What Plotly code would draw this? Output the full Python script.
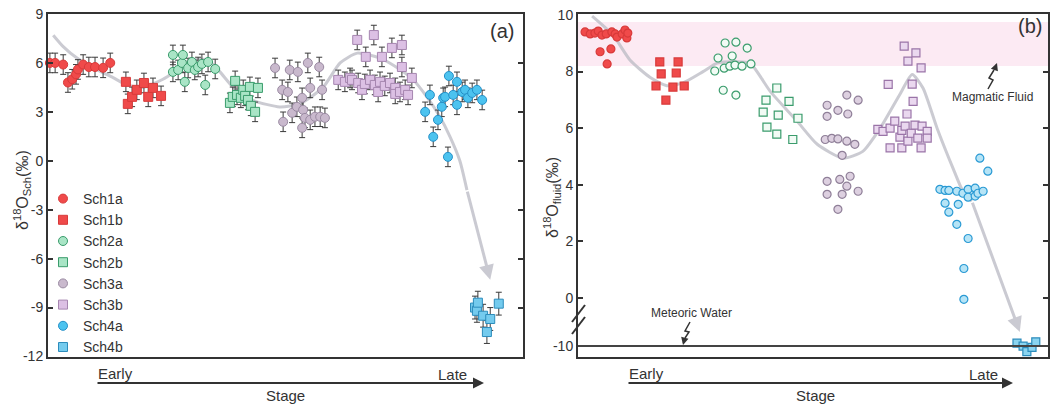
import plotly.graph_objects as go

W, H = 1051, 409
FONT = "Liberation Sans, Arial, sans-serif"

# ---------------- Panel (a): delta18O of scheelite (x = relative stage position, 0-100) -------------
a_sch1a_x = [0.4, 1.5, 3.2, 4.2, 5.1, 5.9, 6.3, 7.4, 8.6, 9.9, 11.6, 13.1]
a_sch1a_y = [6.0, 6.0, 5.9, 4.8, 5.0, 5.3, 5.6, 5.9, 5.75, 5.75, 5.7, 6.0]
a_sch1b_x = [16.4, 16.8, 17.7, 18.7, 20.2, 21.1, 22.1, 23.8]
a_sch1b_y = [4.84, 3.49, 3.92, 4.35, 4.77, 3.92, 4.47, 3.98]
a_sch2a_x = [26.3, 26.3, 27.4, 28.2, 28.4, 28.8, 29.5, 30.3, 30.9, 31.6, 32.4, 33.1, 33.7, 35.2]
a_sch2a_y = [6.49, 5.45, 5.57, 6.0, 6.49, 4.84, 5.69, 6.06, 5.57, 5.75, 5.94, 4.65, 6.06, 5.63]
a_sch2b_x = [38.3, 38.9, 39.4, 39.8, 40.6, 41.1, 41.5, 42.1, 42.5, 42.7, 43.6, 44.2]
a_sch2b_y = [3.55, 3.92, 4.9, 4.04, 3.86, 4.35, 3.98, 3.73, 4.53, 3.37, 3.0, 4.47]
a_sch3a_x = [47.8, 49.3, 49.5, 50.5, 50.9, 51.4, 52.4, 52.6, 53.5, 53.5, 53.7, 54.1, 54.7, 55.2,
             55.2, 56.2, 57.1, 57.3, 57.7, 58.3]
a_sch3a_y = [5.69, 4.35, 2.39, 4.22, 5.57, 2.94, 3.31, 5.45, 2.02, 3.86, 3.12, 2.63, 6.0, 4.47,
             2.51, 2.7, 5.75, 2.7, 4.35, 2.63]
a_sch3b_x = [61.1, 62.5, 63.6, 64.0, 65.1, 65.3, 66.1, 66.7, 66.9, 67.8, 68.6, 68.8, 69.5, 69.9,
             70.3, 70.9, 72.0, 72.4, 73.1, 73.1, 74.1, 74.5, 74.5, 75.2, 75.8, 76.6]
a_sch3b_y = [4.96, 4.84, 5.08, 4.96, 7.41, 4.77, 4.35, 4.71, 6.37, 4.96, 7.71, 4.65, 4.22, 4.84,
             6.37, 4.59, 4.77, 6.92, 4.47, 4.1, 4.22, 7.1, 5.75, 4.35, 4.04, 5.08]
a_sch4a_x = [79.4, 80.4, 81.1, 82.1, 82.9, 83.2, 83.6, 84.2, 84.4, 85.3, 86.1, 86.1, 87.2, 87.8,
             88.4, 89.3, 90.3, 91.4]
a_sch4a_y = [3.0, 4.04, 1.47, 2.51, 3.31, 3.86, 3.92, 0.24, 5.2, 4.04, 4.84, 3.43, 4.22, 4.35,
             3.86, 4.16, 4.35, 3.73]
a_sch4b_x = [89.9, 90.3, 90.5, 91.6, 92.4, 93.1, 94.9]
a_sch4b_y = [-9.0, -9.2, -8.7, -9.5, -10.5, -9.7, -8.76]
a_errors = [0.6, 0.6, 0.6, 0.6, 0.6, 0.6, 0.6, 0.7]  # 2-sigma error per group

a_trend_x = [1.1, 3.2, 6.1, 10.9, 13.7, 16.6, 20.0, 24.2, 26.3, 29.3, 33.5, 36.2, 39.0, 43.2, 48.8,
             53.1, 57.9, 61.5, 65.1, 69.9, 74.1, 76.8, 79.8, 82.5, 84.6, 86.7, 88.2]
a_trend_y = [7.7, 7.0, 6.3, 5.5, 5.1, 4.65, 4.5, 5.0, 5.4, 6.1, 6.2, 5.45, 4.5, 3.7, 3.3,
             3.5, 4.5, 6.0, 6.6, 6.3, 5.6, 5.0, 3.9, 2.7, 1.5, 0.0, -1.8]
a_trend_end = (93.1, -7.3)

a_yticks = [-12, -9, -6, -3, 0, 3, 6, 9]

# ---------------- Panel (b): delta18O of fluid -------------
b_sch1a_x = [1.5, 2.6, 3.6, 4.3, 4.7, 5.1, 6.0, 6.2, 7.0, 7.2, 7.9, 8.3, 9.4, 10.0, 10.4, 10.6]
b_sch1a_y = [9.4, 9.33, 9.36, 9.43, 8.7, 9.29, 9.33, 8.27, 8.8, 9.4, 9.33, 9.22, 9.33, 9.47, 9.19, 9.36]
b_sch1b_x = [16.6, 17.4, 17.7, 18.7, 20.2, 20.9, 21.3, 22.6]
b_sch1b_y = [7.49, 8.34, 7.92, 6.99, 7.45, 7.95, 8.34, 7.49]
b_sch2a_x = [29.1, 29.8, 30.9, 31.1, 31.3, 32.3, 32.8, 33.4, 33.6, 33.6, 34.9, 36.0, 36.8]
b_sch2a_y = [8.02, 8.48, 7.34, 8.12, 9.01, 8.19, 8.55, 8.23, 9.04, 7.17, 8.19, 8.83, 8.27]
b_sch2b_x = [39.4, 40.0, 40.2, 42.3, 42.3, 42.6, 44.9, 45.7, 46.8]
b_sch2b_y = [6.57, 6.99, 6.04, 7.42, 5.79, 6.46, 6.95, 5.6, 6.35]
b_sch3a_x = [52.6, 53.0, 53.0, 53.0, 53.0, 54.0, 55.3, 55.3, 55.3, 55.7, 56.2, 56.2, 57.2, 57.2,
             57.2, 57.4, 57.9, 58.9, 59.6, 59.6]
b_sch3a_y = [5.6, 6.81, 6.42, 4.12, 3.66, 5.64, 6.63, 5.62, 3.13, 4.19, 5.04, 3.66, 7.17, 5.54,
             3.95, 6.5, 4.3, 5.43, 6.99, 3.77]
b_sch3b_x = [63.8, 64.9, 66.0, 66.4, 66.4, 67.4, 68.5, 68.9, 68.9, 69.4, 69.6, 70.0, 70.2, 70.2,
             70.9, 71.1, 71.3, 71.7, 71.9, 72.3, 73.0, 73.0, 73.2, 74.3, 74.3]
b_sch3b_y = [5.96, 5.89, 7.55, 6.0, 5.3, 6.25, 5.68, 5.92, 5.3, 8.9, 6.07, 6.5, 8.37, 5.54,
             5.82, 7.56, 6.95, 6.11, 8.66, 5.65, 8.13, 5.3, 6.07, 5.89, 5.65]
b_sch4a_x = [77.0, 78.1, 78.1, 78.9, 78.9, 80.6, 80.6, 80.9, 81.9, 82.1, 82.1, 83.0, 83.0, 83.0,
             84.5, 84.5, 85.1, 85.5, 86.2, 87.2]
b_sch4a_y = [3.84, 3.8, 3.35, 3.8, 3.03, 3.77, 2.6, 3.31, 3.7, 1.04, -0.05, 3.84, 2.1, 3.56,
             3.88, 3.6, 3.7, 4.94, 3.77, 4.48]
b_sch4b_x = [93.4, 94.7, 95.5, 96.6, 97.4]
b_sch4b_y = [-9.9, -10.0, -10.2, -10.05, -9.85]

b_trend_x = [3.0, 7.4, 11.1, 15.3, 18.9, 22.3, 26.6, 29.6, 33.4, 36.6, 40.9, 46.6, 50.9, 56.4,
             60.6, 64.3, 68.5, 71.1, 73.4, 76.4, 79.8, 81.9, 83.8]
b_trend_y = [9.96, 9.3, 8.4, 7.8, 7.5, 7.6, 8.0, 8.3, 8.35, 8.3, 7.3, 6.25, 5.43, 4.94,
             5.18, 6.0, 7.2, 7.9, 7.42, 6.0, 4.58, 3.77, 3.42]
b_trend_end = (94.0, -9.5)
b_magmatic_band = (8.2, 9.75)
b_meteoric = -10
b_yticks = [-10, 0, 2, 4, 6, 8, 10]

# broken axis in (b): values below the break are shifted up
BREAK_SHIFT = 8.3


def fold(v):
    return v + BREAK_SHIFT if v < -5 else v


def foldl(vals):
    return [fold(v) for v in vals]


names = ["Sch1a", "Sch1b", "Sch2a", "Sch2b", "Sch3a", "Sch3b", "Sch4a", "Sch4b"]
symbols = ["circle", "square"] * 4
a_fill = ["#f04a4a", "#ef4a4a", "#a9e5c6", "#a9e5c6", "#c9b9cd", "#dcc0e4", "#4cc3ef", "#74cbee"]
a_line = ["#d83a3a", "#d83a3a", "#3a9c6c", "#3a9c6c", "#9a8aa2", "#a686b0", "#2590c8", "#2c8cbc"]
b_fill = ["#f04a4a", "#ef4a4a", "#f2fbf5", "#f2fbf5", "#ddd0e0", "#ead8ef", "#b6e4f6", "#8ad4f0"]
b_line = ["#d83a3a", "#d83a3a", "#3a9c6c", "#3a9c6c", "#8f7f98", "#9a74a8", "#2a9ad4", "#2c8cbc"]

a_xs = [a_sch1a_x, a_sch1b_x, a_sch2a_x, a_sch2b_x, a_sch3a_x, a_sch3b_x, a_sch4a_x, a_sch4b_x]
a_ys = [a_sch1a_y, a_sch1b_y, a_sch2a_y, a_sch2b_y, a_sch3a_y, a_sch3b_y, a_sch4a_y, a_sch4b_y]
b_xs = [b_sch1a_x, b_sch1b_x, b_sch2a_x, b_sch2b_x, b_sch3a_x, b_sch3b_x, b_sch4a_x, b_sch4b_x]
b_ys = [b_sch1a_y, b_sch1b_y, b_sch2a_y, b_sch2b_y, b_sch3a_y, b_sch3b_y, b_sch4a_y, b_sch4b_y]

fig = go.Figure()

TREND = "rgba(185,185,195,0.75)"

# trend lines
fig.add_trace(go.Scatter(x=a_trend_x, y=a_trend_y, mode="lines",
                         line=dict(color=TREND, width=3, shape="spline", smoothing=0.6),
                         showlegend=False, hoverinfo="skip", xaxis="x", yaxis="y"))
fig.add_trace(go.Scatter(x=b_trend_x, y=b_trend_y, mode="lines",
                         line=dict(color=TREND, width=3, shape="spline", smoothing=0.6),
                         showlegend=False, hoverinfo="skip", xaxis="x2", yaxis="y2"))

for i, nm in enumerate(names):
    fig.add_trace(go.Scatter(
        x=a_xs[i], y=a_ys[i], mode="markers", name=nm, xaxis="x", yaxis="y",
        marker=dict(symbol=symbols[i], size=9, color=a_fill[i], line=dict(color=a_line[i], width=1)),
        error_y=dict(type="constant", value=a_errors[i], color="#3a3a3a", thickness=1, width=3),
        cliponaxis=False, showlegend=True))
for i, nm in enumerate(names):
    fig.add_trace(go.Scatter(
        x=b_xs[i], y=foldl(b_ys[i]), mode="markers", name=nm, xaxis="x2", yaxis="y2",
        marker=dict(symbol=symbols[i], size=8, color=b_fill[i], line=dict(color=b_line[i], width=1.2)),
        cliponaxis=False, showlegend=False))


def px(x):
    return x / W


def py(y):
    return 1 - y / H


ydom = [py(356.5), py(14)]
axis_common = dict(showline=True, linecolor="#333333", linewidth=2, showgrid=False, zeroline=False)

fig.update_layout(
    width=W, height=H, margin=dict(l=0, r=0, t=0, b=0, pad=0, autoexpand=False),
    paper_bgcolor="white", plot_bgcolor="white",
    font=dict(family=FONT, color="#333333"),
    xaxis=dict(domain=[px(48), px(523)], range=[0, 100], mirror=True, showticklabels=False, ticks="",
               **axis_common),
    yaxis=dict(domain=ydom, range=[-12, 9], tickvals=a_yticks, ticktext=[str(v) for v in a_yticks],
               ticks="inside", ticklen=5, tickwidth=2, tickcolor="#333333", mirror="ticks",
               tickfont=dict(size=14, color="#333333"), **axis_common),
    xaxis2=dict(domain=[px(578), px(1048)], range=[0, 100], mirror=True, showticklabels=False, ticks="",
                anchor="y2", **axis_common),
    yaxis2=dict(domain=ydom, range=[-2.07, 10.035], anchor="x2", tickvals=foldl(b_yticks),
                ticktext=[str(v) for v in b_yticks], ticks="inside", ticklen=5, tickwidth=2,
                tickcolor="#333333", mirror="ticks", tickfont=dict(size=14, color="#333333"), **axis_common),
    legend=dict(x=px(43), y=py(183), xanchor="left", yanchor="top", bgcolor="rgba(0,0,0,0)",
                font=dict(size=14, color="#333333", family=FONT), itemsizing="trace", tracegroupgap=0),
)

shapes = []
# magmatic fluid band
shapes.append(dict(type="rect", xref="x2 domain", yref="y2", x0=0, x1=1,
                   y0=b_magmatic_band[0], y1=b_magmatic_band[1],
                   fillcolor="rgba(240,160,200,0.22)", line=dict(width=0), layer="below"))
# meteoric water line
shapes.append(dict(type="line", xref="x2 domain", yref="y2", x0=0, x1=1, y0=fold(b_meteoric), y1=fold(b_meteoric),
                   line=dict(color="#444444", width=2)))
# axis break marks
shapes.append(dict(type="line", xref="paper", yref="paper", x0=px(572), y0=py(322), x1=px(585), y1=py(305),
                   line=dict(color="#333333", width=2)))
shapes.append(dict(type="line", xref="paper", yref="paper", x0=px(572), y0=py(334), x1=px(585), y1=py(317),
                   line=dict(color="#333333", width=2)))
# squiggle bodies
shapes.append(dict(type="path", xref="paper", yref="paper",
                   path=f"M {px(988)} {py(89)} L {px(993)} {py(80)} L {px(989)} {py(78)} L {px(994)} {py(70)}",
                   line=dict(color="#333333", width=1.5)))
shapes.append(dict(type="path", xref="paper", yref="paper",
                   path=f"M {px(690)} {py(322)} L {px(685)} {py(331)} L {px(689)} {py(332)} L {px(685)} {py(338)}",
                   line=dict(color="#333333", width=1.5)))
fig.update_layout(shapes=shapes)

ann = []


def label(text, x, y, size, **kw):
    d = dict(text=text, x=px(x), y=py(y), xref="paper", yref="paper", showarrow=False,
             xanchor="center", yanchor="middle", font=dict(size=size, color="#333333", family=FONT))
    d.update(kw)
    return d


# y titles
ann.append(label("δ<sup>18</sup>O<sub>Sch</sub>(‰)", 22, 190, 16, textangle=-90))
ann.append(label("δ<sup>18</sup>O<sub>fluid</sub>(‰)", 552, 198, 16, textangle=-90))
# panel labels
ann.append(label("(a)", 502, 31, 20))
ann.append(label("(b)", 1030, 26, 20))
# stage arrows
for x0, x1, xe, xl, xs in [(96, 484, 96, 452, 285), (627, 1013, 627, 983, 815)]:
    ann.append(dict(text="", x=px(x1), y=py(383), xref="paper", yref="paper", showarrow=True,
                    ax=x0 - x1, ay=0, arrowhead=2, arrowsize=1.1, arrowwidth=2, arrowcolor="#333333"))
    ann.append(label("Early", xe, 373, 15, xanchor="left"))
    ann.append(label("Late", xl, 374, 15))
    ann.append(label("Stage", xs, 395, 15))
# trend arrowheads
ann.append(dict(text="", x=a_trend_end[0], y=a_trend_end[1], xref="x", yref="y", axref="x", ayref="y",
                ax=a_trend_x[-1], ay=a_trend_y[-1], showarrow=True, arrowhead=2, arrowsize=1,
                arrowwidth=3, arrowcolor=TREND))
ann.append(dict(text="", x=b_trend_end[0], y=fold(b_trend_end[1]), xref="x2", yref="y2", axref="x2", ayref="y2",
                ax=b_trend_x[-1], ay=b_trend_y[-1], showarrow=True, arrowhead=2, arrowsize=1,
                arrowwidth=3, arrowcolor=TREND))
# fluid labels
ann.append(label("Magmatic Fluid", 992, 97, 12))
ann.append(dict(text="", x=px(997), y=py(63), xref="paper", yref="paper", showarrow=True,
                ax=-3, ay=8, arrowhead=2, arrowsize=1, arrowwidth=1.5, arrowcolor="#333333"))
ann.append(label("Meteoric Water", 691, 313, 12))
ann.append(dict(text="", x=px(683), y=py(345), xref="paper", yref="paper", showarrow=True,
                ax=2, ay=-8, arrowhead=2, arrowsize=1, arrowwidth=1.5, arrowcolor="#333333"))
fig.update_layout(annotations=ann)

fig.write_html("out.html")
